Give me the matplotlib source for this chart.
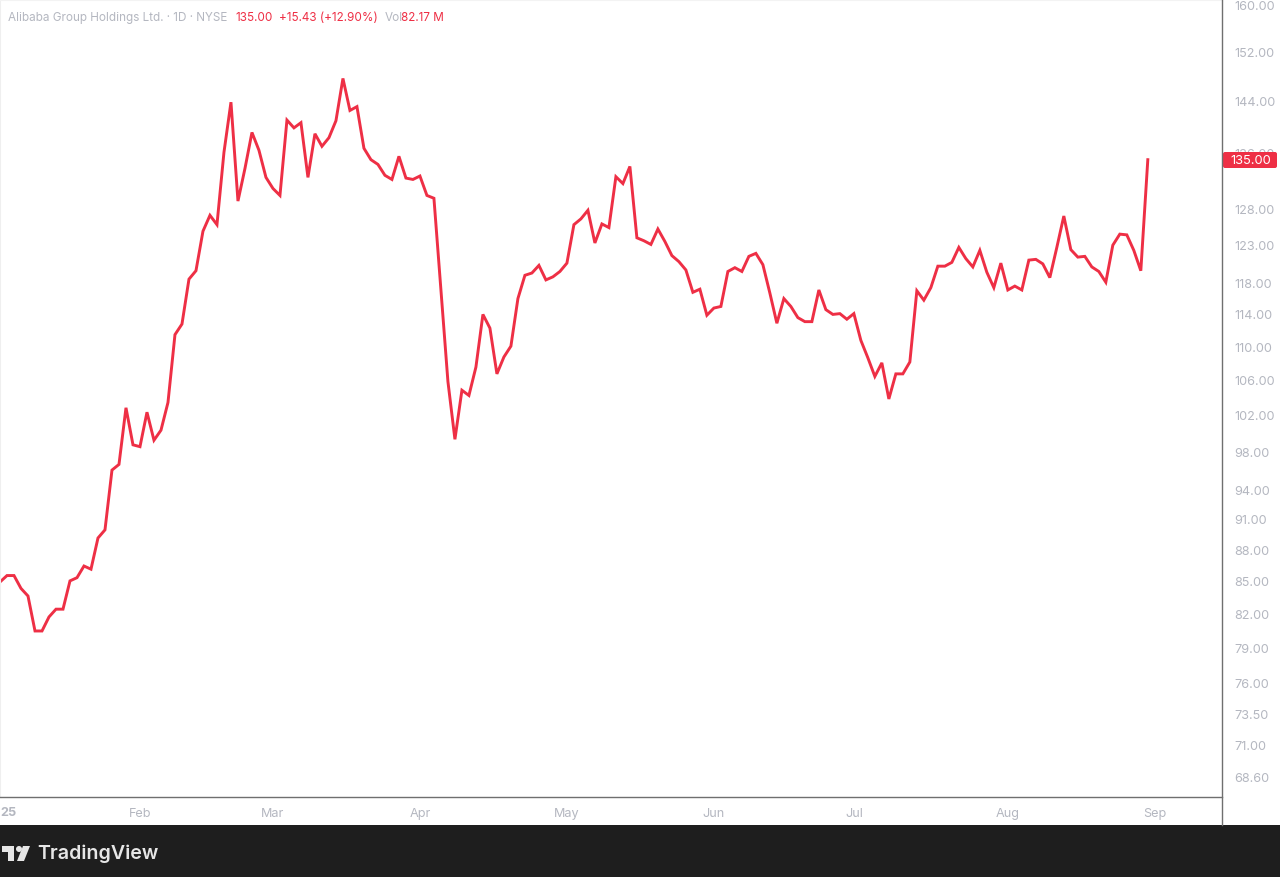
#!/usr/bin/env python3
import matplotlib
matplotlib.use("Agg")
import matplotlib.pyplot as plt
from matplotlib.patches import FancyBboxPatch, Polygon, Circle, Rectangle
from matplotlib.ticker import FixedLocator, FixedFormatter, NullLocator
from matplotlib.transforms import ScaledTranslation

# daily closes
closes = [
    84.9, 85.5, 85.5, 84.3, 83.6, 80.45, 80.45, 81.7, 82.4, 82.4,
    85.0, 85.3, 86.4, 86.1, 89.1, 89.9, 96.0, 96.6, 102.8, 98.7,
    98.5, 102.3, 99.2, 100.3, 103.4, 111.4, 112.7, 118.4, 119.5, 124.8,
    127.0, 125.7, 136.1, 143.8, 129.0, 133.7, 139.1, 136.4, 132.4, 130.8,
    129.8, 141.0, 139.8, 140.6, 132.4, 138.9, 137.0, 138.3, 140.9, 147.6,
    142.5, 143.1, 136.7, 135.0, 134.3, 132.7, 132.1, 135.5, 132.3, 132.1,
    132.6, 129.8, 129.4, 117.0, 105.8, 99.3, 104.8, 104.2, 107.5, 113.9,
    112.2, 106.7, 108.7, 110.0, 115.9, 118.9, 119.2, 120.2, 118.3, 118.7,
    119.4, 120.5, 125.7, 126.5, 127.7, 123.2, 125.8, 125.3, 132.5, 131.5,
    134.0, 123.9, 123.5, 123.0, 125.1, 123.4, 121.5, 120.7, 119.6, 116.7,
    117.1, 113.8, 114.7, 114.9, 119.4, 119.9, 119.4, 121.4, 121.8, 120.3,
    116.6, 112.8, 115.9, 114.9, 113.5, 113.0, 113.0, 117.0, 114.5, 113.9,
    114.0, 113.3, 114.0, 110.7, 108.6, 106.4, 108.0, 103.8, 106.7, 106.7,
    108.1, 116.9, 115.7, 117.3, 120.1, 120.1, 120.6, 122.6, 121.1, 120.0,
    122.2, 119.3, 117.3, 120.5, 117.0, 117.5, 117.0, 120.9, 121.0, 120.4,
    118.6, 122.6, 126.9, 122.3, 121.3, 121.4, 120.0, 119.4, 118.0, 122.9,
    124.4, 124.3, 122.2, 119.5, 135.0,
]

price_ticks = [160, 152, 144, 136, 128, 123, 118, 114, 110, 106, 102, 98, 94,
               91, 88, 85, 82, 79, 76, 73.5, 71, 68.6]
month_labels = ["Feb", "Mar", "Apr", "May", "Jun", "Jul", "Aug", "Sep"]
month_days = [20, 39, 60, 81, 102, 122, 144, 165]

W, H = 1280, 877
RED = "#ee2f45"
GRAY = "#b4b7c0"
font = "Inter"

fig = plt.figure(figsize=(W / 100, H / 100), dpi=100, facecolor="white")

# chart pane, placed in pixels
ax = fig.add_axes([0, (H - 797) / H, 1222 / W, 797 / H])
ax.plot(range(len(closes)), closes, color=RED, lw=2.1, solid_joinstyle="miter", clip_on=True)
ax.set_yscale("log")
ax.set_xlim(0, 174.6)
ax.set_ylim(67.04, 160.88)

ax.yaxis.tick_right()
ax.yaxis.set_major_locator(FixedLocator(price_ticks))
ax.yaxis.set_major_formatter(FixedFormatter(["%.2f" % p for p in price_ticks]))
ax.yaxis.set_minor_locator(NullLocator())
ax.tick_params(axis="y", length=0, pad=9, labelsize=9.1, labelcolor=GRAY)
ax.xaxis.set_major_locator(FixedLocator(month_days))
ax.xaxis.set_major_formatter(FixedFormatter(month_labels))
ax.tick_params(axis="x", length=0, pad=8, labelsize=9.1, labelcolor=GRAY)
for lab in ax.get_xticklabels() + ax.get_yticklabels():
    lab.set_fontfamily(font)

# price labels sit a pixel lower in the original
down = ScaledTranslation(0, -1 / 100, fig.dpi_scale_trans)
for t in ax.yaxis.get_major_ticks():
    t.label2.set_transform(t.label2.get_transform() + down)

ax.spines["top"].set_color("#f3f3f3")
ax.spines["top"].set_linewidth(0.8)
ax.spines["left"].set_color("#efefef")
ax.spines["left"].set_linewidth(0.8)
ax.spines["bottom"].set_color("#6f6f6f")
ax.spines["bottom"].set_linewidth(1.0)
ax.spines["right"].set_visible(False)

# overlay in pixel coordinates for the chrome
ov = fig.add_axes([0, 0, 1, 1], zorder=5)
ov.set_xlim(0, W)
ov.set_ylim(H, 0)
ov.axis("off")
ov.patch.set_alpha(0)

ov.plot([1222, 1222], [0, 825], color="#6f6f6f", lw=1.0)
ov.add_patch(Rectangle((0, 825), W, 52, color="#1e1e1e", lw=0))

# year label cut at the left edge
ov.text(0, 813, "25", color=GRAY, fontsize=9.1, fontweight="bold", family=font, va="center", ha="left")

# header line
y_head = 18
ov.text(8, y_head, "Alibaba Group Holdings Ltd. · 1D · NYSE", color=GRAY, fontsize=8.45, family=font, va="center")
ov.text(235, y_head, "135.00", color=RED, fontsize=8.45, family=font, va="center")
ov.text(279, y_head, "+15.43 (+12.90%)", color=RED, fontsize=8.45, family=font, va="center")
ov.text(385, y_head, "Vol", color=GRAY, fontsize=8.45, family=font, va="center")
ov.text(401, y_head, "82.17 M", color=RED, fontsize=8.45, family=font, va="center")

# last price badge
ov.add_patch(FancyBboxPatch((1223, 152), 54, 16, boxstyle="round,pad=0,rounding_size=2", color=RED, lw=0))
ov.text(1251, 161, "135.00", color="white", fontsize=9.3, family=font, va="center", ha="center")

# TradingView logo
logo = "#e6e6e6"
ov.add_patch(Polygon([(2, 846), (14, 846), (14, 861), (8, 861), (8, 852), (2, 852)], color=logo, lw=0))
ov.add_patch(Circle((19, 849), 3, color=logo, lw=0))
ov.add_patch(Polygon([(23, 846), (30, 846), (24, 861), (17, 861)], color=logo, lw=0))
ov.text(37, 854, "TradingView", color=logo, fontsize=14.1, fontweight="semibold", family=font, va="center")

fig.savefig("out.png", dpi=100, facecolor="white")
